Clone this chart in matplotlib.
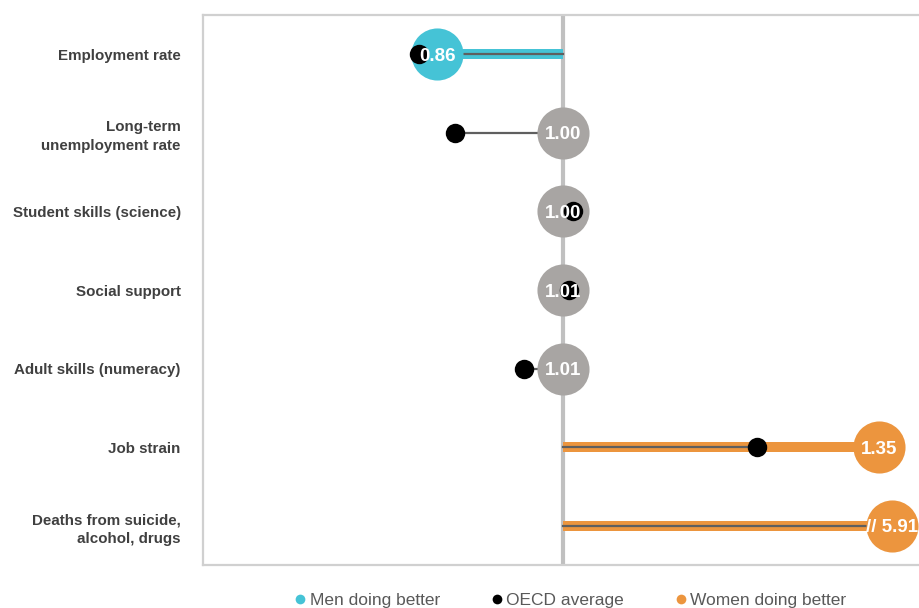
import numpy as np
import matplotlib.pyplot as plt
from matplotlib.lines import Line2D

plt.rcParams['font.family'] = ['Liberation Sans', 'DejaVu Sans']

# data
indicators = ['Employment rate', 'Long-term\nunemployment rate', 'Student skills (science)',
              'Social support', 'Adult skills (numeracy)', 'Job strain',
              'Deaths from suicide,\nalcohol, drugs']
ratios = [0.86, 1.00, 1.00, 1.01, 1.01, 1.35, 5.91]
oecd_avg = [0.84, 0.88, 1.011, 1.006, 0.956, 1.215, np.nan]
groups = ['men', 'none', 'none', 'none', 'none', 'women', 'women']
shown_max = 1.365  # ratios above this are drawn clipped with "//"

colors = {'men': '#45C3D6', 'none': '#A8A5A3', 'women': '#EC953E'}

fig = plt.figure(figsize=(9.2, 6.08), dpi=100)
ax = fig.add_axes([203 / 920, 43 / 608, 1 - 203 / 920, 550 / 608])
ax.set_xlim(0.6, 1.396)
ax.set_ylim(len(indicators) - 0.5, -0.5)

for s in ['top', 'left', 'bottom']:
    ax.spines[s].set_color('#d0d0d0')
    ax.spines[s].set_linewidth(1.6)
ax.spines['right'].set_visible(False)
ax.set_xticks([])
ax.set_yticks(range(len(indicators)))
ax.set_yticklabels(indicators, fontsize=10.9, fontweight='bold', color='#404040',
                   linespacing=1.45)
ax.tick_params(axis='y', length=0, pad=16)

ax.axvline(1.0, color='#c0c0c0', lw=3, zorder=1)

for i, (r, o, g) in enumerate(zip(ratios, oecd_avg, groups)):
    col = colors[g]
    # no significant gap: circle sits on the parity line
    xr = 1.0 if g == 'none' else min(r, shown_max)
    if g != 'none':
        ax.plot([1.0, xr], [i, i], color=col, lw=7.2, solid_capstyle='butt', zorder=2)
    if np.isnan(o):
        ax.plot([1.0, xr], [i, i], color='#5f5f5f', lw=1.6, zorder=3)
    else:
        ax.plot([1.0, o], [i, i], color='#5f5f5f', lw=1.6, zorder=3)
    ax.plot(xr, i, 'o', ms=37.5, color=col, mec='none', zorder=4, clip_on=False)
    if not np.isnan(o):
        ax.plot(o, i, 'o', ms=14, color='black', mec='none', zorder=5)
    val = f'{r:.2f}'
    label = val if r <= shown_max else '// ' + val
    ax.text(xr, i, label, ha='center', va='center_baseline', color='white', fontsize=13.5,
            fontweight='bold', zorder=6, clip_on=False)

handles = [Line2D([], [], marker='o', ls='none', ms=7, color=colors['men'], mec='none'),
           Line2D([], [], marker='o', ls='none', ms=7, color='black', mec='none'),
           Line2D([], [], marker='o', ls='none', ms=7, color=colors['women'], mec='none')]
leg = fig.legend(handles, ['Men doing better', 'OECD average', 'Women doing better'],
                 loc='lower left', bbox_to_anchor=(276 / 920, -16 / 608), ncol=3, frameon=False,
                 fontsize=12.5, handletextpad=0.05, columnspacing=2.77, handlelength=1.0)
for t in leg.get_texts():
    t.set_color('#595959')

fig.savefig('out.png', dpi=100)
